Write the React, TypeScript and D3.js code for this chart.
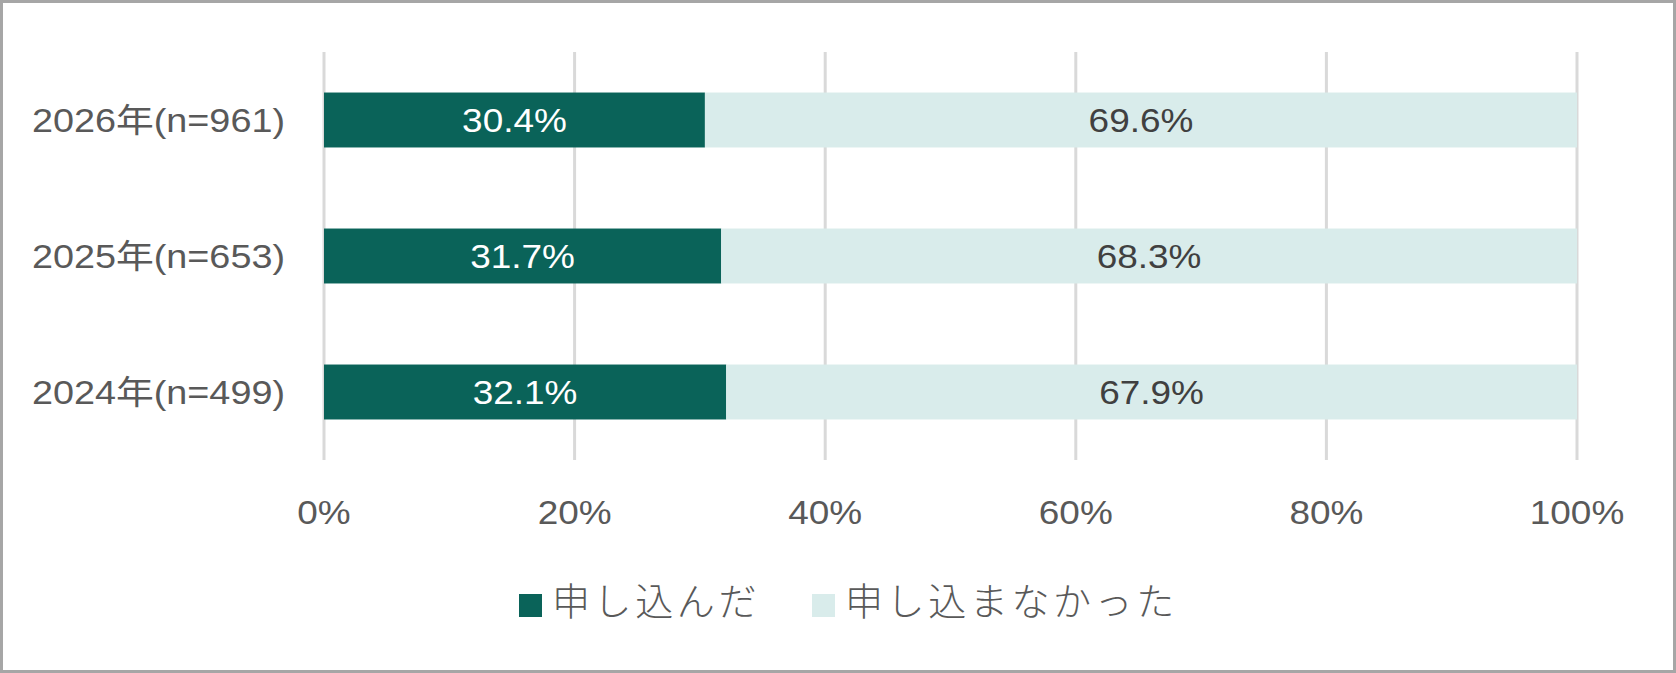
import React from "react";
import * as d3 from "d3";

const categories = ["2026年(n=961)", "2025年(n=653)", "2024年(n=499)"];
const appliedValues = [30.4, 31.7, 32.1];
const notAppliedValues = [69.6, 68.3, 67.9];
const seriesNames = ["申し込んだ", "申し込まなかった"];
const tickValues = [0, 20, 40, 60, 80, 100];

const W = 1676;
const H = 673;
const DARK = "#0a6359";
const LIGHT = "#d9eceb";
const TEXT = "#595959";
const LATIN = "'Liberation Sans', Arial, 'Noto Sans CJK JP', sans-serif";
const CJK = "'Noto Sans CJK JP', 'Noto Sans', sans-serif";

type TProps = {
  x: number;
  y: number;
  sx: number;
  anchor?: "start" | "middle" | "end";
  size: number;
  fill: string;
  family?: string;
  weight?: number;
  spacing?: number;
  dy?: string;
  children: React.ReactNode;
};

function SText({ x, y, sx, anchor = "start", size, fill, family = LATIN, weight, spacing, dy, children }: TProps) {
  return (
    <text
      transform={`translate(${x},${y}) scale(${sx},1)`}
      textAnchor={anchor}
      fontFamily={family}
      fontSize={size}
      fontWeight={weight}
      letterSpacing={spacing}
      fill={fill}
      dy={dy}
    >
      {children}
    </text>
  );
}

export default function App() {
  const x = d3.scaleLinear().domain([0, 100]).range([324, 1577]);
  const y = d3
    .scaleBand<string>()
    .domain(categories)
    .range([52, 460])
    .paddingInner(0.596)
    .paddingOuter(0.298);
  const bw = y.bandwidth();

  const rows = categories.map((c, i) => ({
    c,
    a: appliedValues[i],
    b: notAppliedValues[i],
  }));

  return (
    <div style={{ position: "fixed", left: 0, top: 0 }}>
      <svg width={W} height={H} style={{ display: "block" }}>
        <rect x={0} y={0} width={W} height={H} fill="#fff" />
        <rect x={1.5} y={1.5} width={W - 3} height={H - 3} fill="none" stroke="#a6a6a6" strokeWidth={3} />
        {tickValues.map((t) => (
          <line key={t} x1={x(t)} x2={x(t)} y1={52} y2={460} stroke="#d9d9d9" strokeWidth={3} />
        ))}
        {rows.map((r) => {
          const y0 = y(r.c)!;
          const cy = y0 + bw / 2;
          return (
            <g key={r.c}>
              <rect x={x(0)} y={y0} width={x(r.a) - x(0)} height={bw} fill={DARK} />
              <rect x={x(r.a)} y={y0} width={x(r.a + r.b) - x(r.a)} height={bw} fill={LIGHT} />
              <SText x={(x(0) + x(r.a)) / 2} y={cy} dy="0.36em" sx={1.12} anchor="middle" size={33} fill="#ffffff">
                {r.a.toFixed(1)}%
              </SText>
              <SText x={(x(r.a) + x(r.a + r.b)) / 2} y={cy} dy="0.36em" sx={1.12} anchor="middle" size={33} fill="#404040">
                {r.b.toFixed(1)}%
              </SText>
              <SText x={285} y={cy} dy="0.36em" sx={1.145} anchor="end" size={33} fill={TEXT}>
                {r.c}
              </SText>
            </g>
          );
        })}
        {tickValues.map((t) => (
          <SText key={"t" + t} x={x(t)} y={524} sx={1.12} anchor="middle" size={33} fill={TEXT}>
            {t}%
          </SText>
        ))}
        <g>
          <rect x={519} y={594} width={23} height={23} fill={DARK} />
          <SText x={552} y={615} sx={1} family={CJK} weight={300} size={38} spacing={3.6} fill={TEXT}>
            {seriesNames[0]}
          </SText>
          <rect x={812} y={594} width={23} height={23} fill={LIGHT} />
          <SText x={845} y={615} sx={1} family={CJK} weight={300} size={38} spacing={3.6} fill={TEXT}>
            {seriesNames[1]}
          </SText>
        </g>
      </svg>
    </div>
  );
}
